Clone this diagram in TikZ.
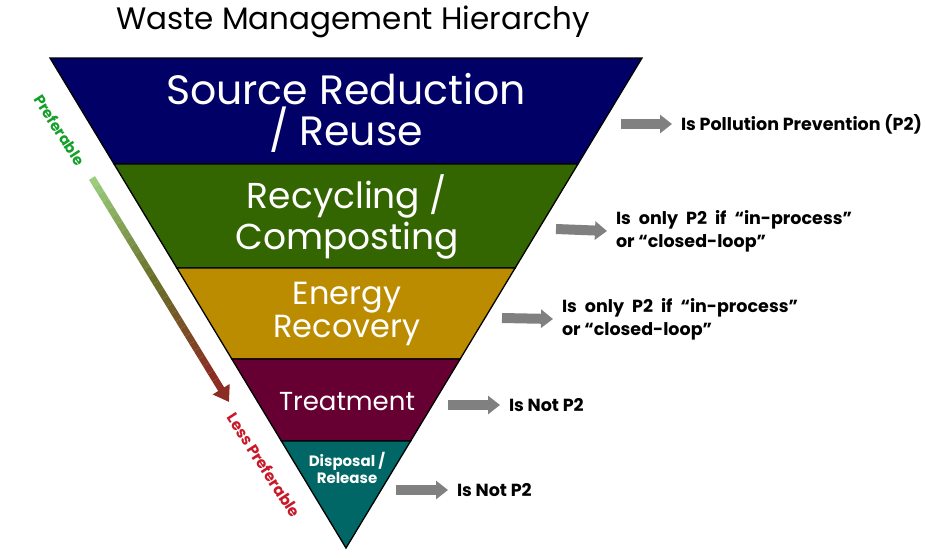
\documentclass[tikz,border=0pt]{standalone}
\usepackage{fontspec}
\setmainfont{Poppins}
\usetikzlibrary{calc,arrows.meta}
\definecolor{bandnavy}{RGB}{0,0,102}
\definecolor{bandgreen}{RGB}{51,102,0}
\definecolor{bandgold}{RGB}{187,139,0}
\definecolor{bandwine}{RGB}{102,0,51}
\definecolor{bandteal}{RGB}{0,102,102}
\definecolor{pointgray}{RGB}{128,128,128}
\definecolor{prefgreen}{RGB}{20,160,40}
\definecolor{lessred}{RGB}{200,25,40}
\definecolor{shaftlight}{RGB}{155,205,125}
\definecolor{shaftolive}{RGB}{105,110,40}
\definecolor{shaftred}{RGB}{140,45,35}

\begin{document}
\begin{tikzpicture}[x=1pt,y=-1pt,
  band/.style={draw=black,line width=1.3pt,line join=miter},
  bandtext/.style={text=white,align=center,inner sep=0pt},
  pointer/.style={draw=pointgray,line width=10pt,-{Triangle[length=12pt,width=18pt]}},
  verdict/.style={font=\bfseries\fontsize{17.5}{23}\selectfont,align=left,anchor=west,inner ysep=0pt,inner xsep=9pt,outer sep=0pt},
  twoline/.style={text width=236pt,align=justify},
  shaft/.style={line width=7pt}]
\useasboundingbox (0,0) rectangle (925,557);
\node (title) at (353,22) {\fontsize{31}{32}\selectfont Waste Management Hierarchy};
\coordinate (tl) at (50,58);
\coordinate (tr) at (642,58);
\coordinate (ap) at (346,548);
\coordinate (l1) at ($(tl)!0.2163!(ap)$);
\coordinate (r1) at ($(tr)!0.2163!(ap)$);
\coordinate (l2) at ($(tl)!0.4286!(ap)$);
\coordinate (r2) at ($(tr)!0.4286!(ap)$);
\coordinate (l3) at ($(tl)!0.6143!(ap)$);
\coordinate (r3) at ($(tr)!0.6143!(ap)$);
\coordinate (l4) at ($(tl)!0.7816!(ap)$);
\coordinate (r4) at ($(tr)!0.7816!(ap)$);
\filldraw[band,fill=bandnavy] (tl) -- (tr) -- (r1) -- (l1) -- cycle;
\filldraw[band,fill=bandgreen] (l1) -- (r1) -- (r2) -- (l2) -- cycle;
\filldraw[band,fill=bandgold] (l2) -- (r2) -- (r3) -- (l3) -- cycle;
\filldraw[band,fill=bandwine] (l3) -- (r3) -- (r4) -- (l4) -- cycle;
\filldraw[band,fill=bandteal] (l4) -- (r4) -- (ap) -- cycle;
\node[bandtext,font=\fontsize{41}{41}\selectfont] (source) at (346,113) {Source Reduction\\/ Reuse};
\node[bandtext,font=\fontsize{36}{41}\selectfont] (recycle) at (347,217) {Recycling /\\Composting};
\node[bandtext,font=\fontsize{32}{33}\selectfont] (energy) at (347,314) {Energy\\Recovery};
\node[bandtext,font=\fontsize{26}{30}\selectfont] (treat) at (347,402) {Treatment};
\node[bandtext,font=\bfseries\fontsize{15}{17}\selectfont] (dispose) at (347,468) {Disposal /\\Release};
\coordinate (p1) at (621,124);
\coordinate (p2) at (556,229);
\coordinate (p3) at (502,318);
\coordinate (p4) at (448,405);
\coordinate (p5) at (396,490);
\node[verdict] (v1) at (672,124) {Is Pollution Prevention (P2)};
\node[verdict,twoline] (v2) at (607,231) {Is only P2 if “in-process”\linebreak or “closed-loop”};
\node[verdict,twoline] (v3) at (553,319) {Is only P2 if “in-process”\linebreak or “closed-loop”};
\node[verdict] (v4) at (500,405) {Is Not P2};
\node[verdict] (v5) at (448,490) {Is Not P2};
\draw[pointer] (p1) -- (v1.west);
\draw[pointer] (p2) -- (v2.west);
\draw[pointer] (p3) -- (v3.west);
\draw[pointer] (p4) -- (v4.west);
\draw[pointer] (p5) -- (v5.west);
\coordinate (gs) at (92,178);
\coordinate (gt) at (229,402);
\foreach \i in {0,...,13}{
  \pgfmathsetmacro\p{100-100*\i/13}
  \draw[shaft,color=shaftlight!\p!shaftolive] ($(gs)!{\i/30}!(gt)$) -- ($(gs)!{(\i+1)/30}!(gt)$);
}
\foreach \i in {14,...,26}{
  \pgfmathsetmacro\p{100-100*(\i-14)/12}
  \draw[shaft,color=shaftolive!\p!shaftred] ($(gs)!{\i/30}!(gt)$) -- ($(gs)!{(\i+1)/30}!(gt)$);
}
\draw[shaft,color=shaftred,-{Triangle[length=15pt,width=19pt]}] ($(gs)!{27/30}!(gt)$) -- (gt);
\node[text=prefgreen,font=\bfseries\fontsize{15}{15}\selectfont,rotate=-57] (pref) at (60,130) {Preferable};
\node[text=lessred,font=\bfseries\fontsize{15.5}{15.5}\selectfont,rotate=-57] (less) at (264,465) {Less Preferable};
\end{tikzpicture}
\end{document}
